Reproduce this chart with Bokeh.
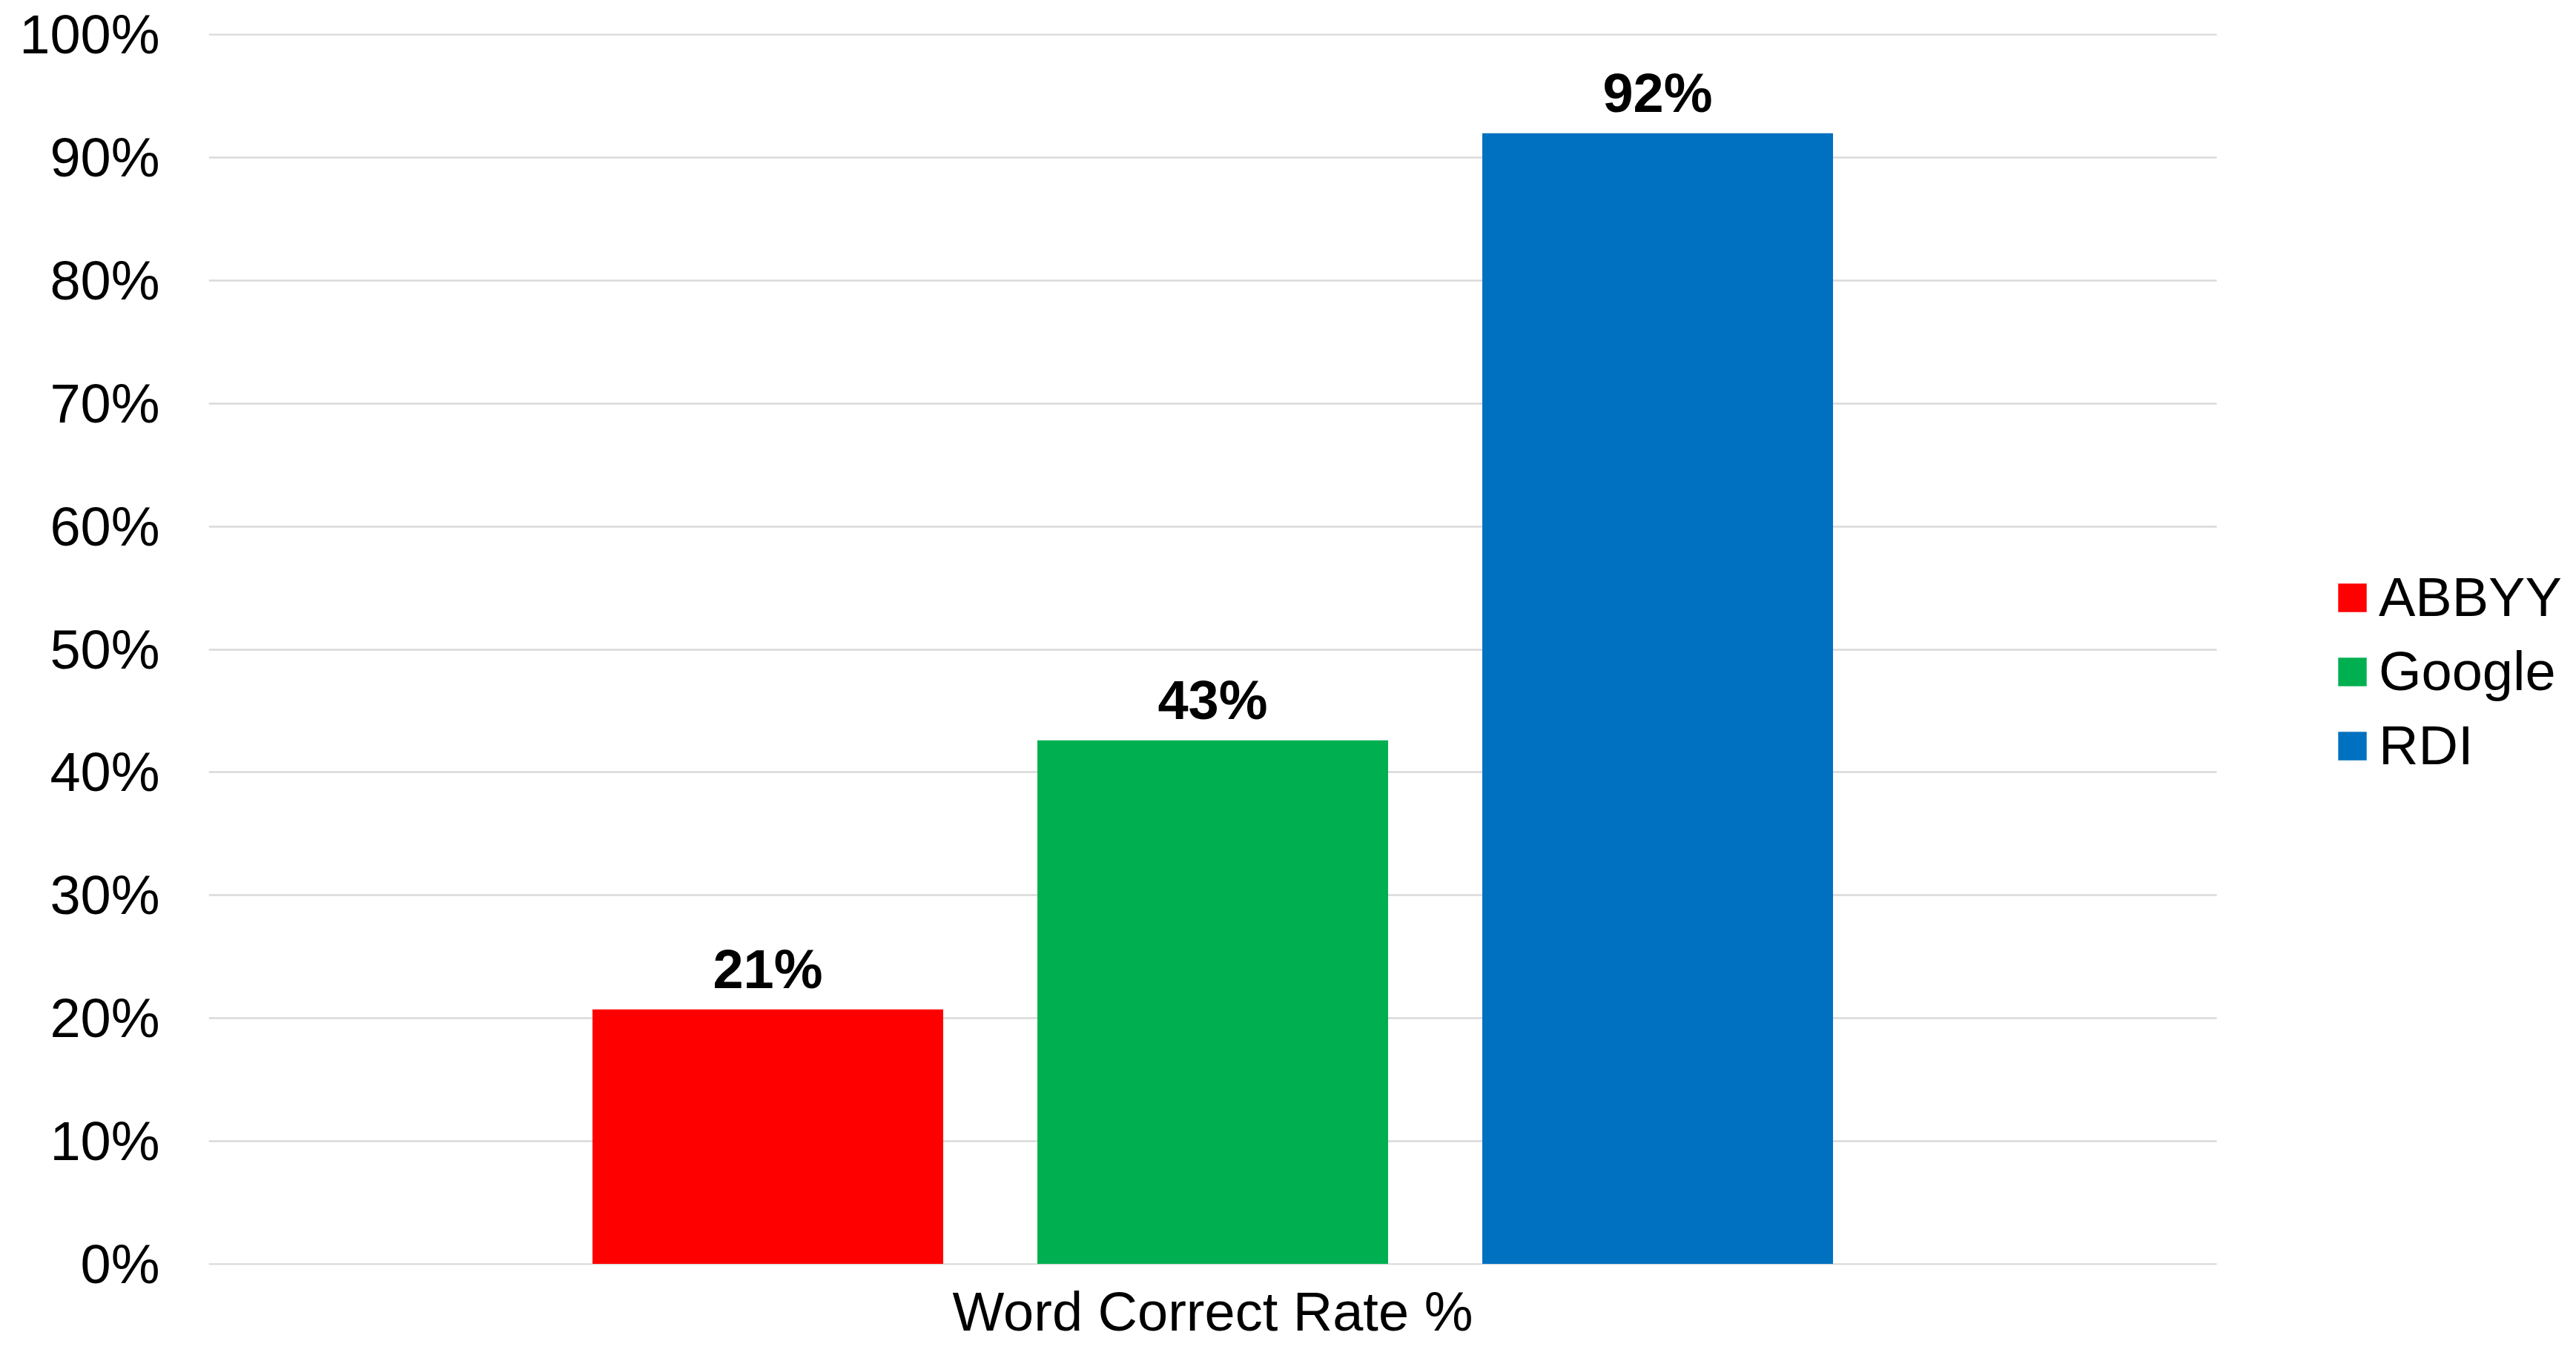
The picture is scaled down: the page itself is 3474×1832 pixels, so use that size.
from bokeh.plotting import figure
from bokeh.models import (ColumnDataSource, Range1d, FixedTicker,
                          NumeralTickFormatter, Legend, LegendItem)
from bokeh.transform import dodge
from bokeh.core.properties import value
from bokeh.embed import file_html
from bokeh.resources import INLINE

# ---- data ----
category = ["Word Correct Rate %"]
engines = ["ABBYY", "Google", "RDI"]
rates = [0.207, 0.426, 0.920]
labels = [f"{round(r * 100)}%" for r in rates]
colors = ["#FF0000", "#00B050", "#0070C0"]
y_ticks = [0.0, 0.1, 0.2, 0.3, 0.4, 0.5, 0.6, 0.7, 0.8, 0.9, 1.0]

FONT = "Liberation Sans"
FS = "74px"

# numeric x: category centred at 0, bars at -1, 0, +1
p = figure(width=3458, height=1816, output_backend="svg", toolbar_location=None,
           x_range=Range1d(-2.2567, 3.0383),
           y_range=Range1d(-0.0009, 1.0009),
           min_border_left=281, min_border_right=0, min_border_top=45,
           min_border_bottom=110)
p.outline_line_color = None
p.background_fill_color = "white"
p.border_fill_color = "white"

offsets = [-1.0, 0.0, 1.0]
bar_w = 0.7883
renderers = []
for eng, r, lab, c, off in zip(engines, rates, labels, colors, offsets):
    src = ColumnDataSource(dict(x=[0.0], top=[r], lab=[lab]))
    rend = p.vbar(x=dodge("x", off), top="top", width=bar_w,
                  bottom=0, source=src, fill_color=c, line_color=None)
    renderers.append(rend)
    p.text(x=dodge("x", off), y="top", text="lab", source=src,
           text_font=value(FONT), text_font_style="bold", text_font_size=FS,
           text_align="center", text_baseline="alphabetic", y_offset=-54,
           text_color="black")

# axes
p.yaxis.ticker = FixedTicker(ticks=y_ticks)
p.yaxis.formatter = NumeralTickFormatter(format="0%")
p.xaxis.ticker = FixedTicker(ticks=[0])
p.xaxis.major_label_overrides = {0: category[0]}
for ax in (p.xaxis[0], p.yaxis[0]):
    ax.axis_line_color = None
    ax.major_tick_line_color = None
    ax.minor_tick_line_color = None
    ax.major_tick_out = 0
    ax.major_tick_in = 0
    ax.major_label_text_font = FONT
    ax.major_label_text_font_size = FS
    ax.major_label_text_color = "black"
p.yaxis.major_label_standoff = 66
p.xaxis.major_label_standoff = 21

p.xgrid.grid_line_color = None
p.ygrid.grid_line_color = "#D9D9D9"
p.ygrid.grid_line_width = 2.5
p.ygrid.cross_bounds = (-2.2567, 2.2567)

legend = Legend(items=[LegendItem(label=e, renderers=[r]) for e, r in zip(engines, renderers)],
                location=(2867, 658), padding=0, margin=0, spacing=15,
                glyph_width=48, glyph_height=48, label_height=48,
                label_standoff=12, border_line_color=None,
                background_fill_alpha=0,
                label_text_font=FONT, label_text_font_size=FS,
                label_text_color="black")
p.add_layout(legend, "center")

open("out.html", "w").write(file_html(p, INLINE))
